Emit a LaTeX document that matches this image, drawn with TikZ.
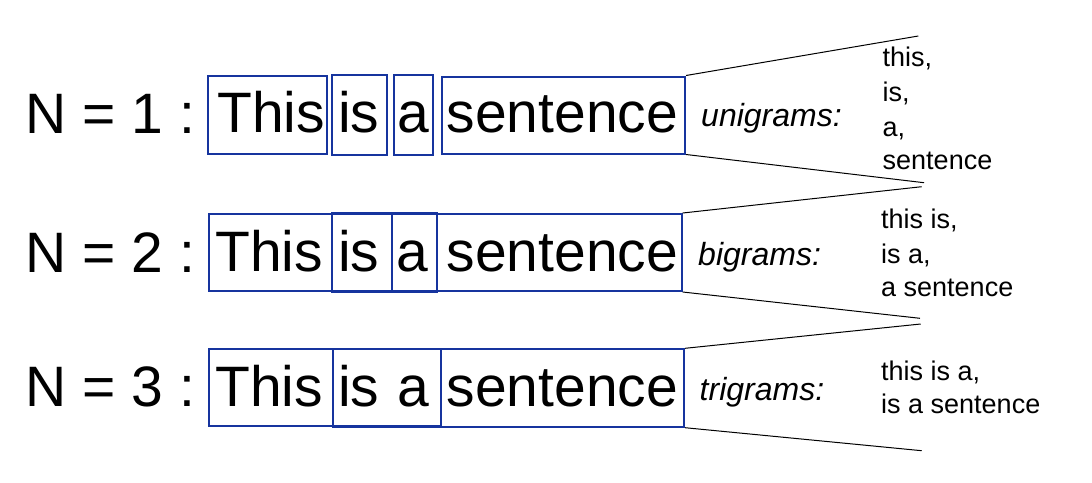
\documentclass[tikz,border=0pt]{standalone}
\usepackage{fontspec}
\setmainfont{Liberation Sans}
\definecolor{boxblue}{RGB}{22,52,158}
\begin{document}
\begin{tikzpicture}[x=1pt,y=-1pt,
  wordbox/.style={draw=boxblue,line width=2pt,inner sep=0pt,rectangle},
  bigword/.style={anchor=base west,inner sep=0pt,font=\fontsize{57}{60}\selectfont},
  gramlabel/.style={anchor=base west,inner sep=0pt,font=\fontsize{32}{36}\selectfont\itshape},
  gramitem/.style={anchor=base west,inner sep=0pt,font=\fontsize{27}{32}\selectfont},
  fan/.style={draw=black,line width=1pt}]
\useasboundingbox (0,0) rectangle (1092,482);
\fill[white] (0,0) rectangle (1092,482);

% ---------- Row 1: unigrams ----------
\node[wordbox,minimum width=118.4pt,minimum height=78pt] (r1this) at (267.5,115) {};
\node[wordbox,minimum width=55pt,minimum height=80pt] (r1is) at (359.2,115) {};
\node[wordbox,minimum width=38.7pt,minimum height=80pt] (r1a) at (413.3,115) {};
\node[wordbox,minimum width=242.7pt,minimum height=77pt] (r1sent) at (563.7,115) {};
\node[bigword] (n1) at (25.5,133) {N = 1 :};
\node[bigword] (w1a) at (217,132) {This};
\node[bigword] (w1b) at (338,132) {is};
\node[bigword] (w1c) at (397,132) {a};
\node[bigword] (w1d) at (446.5,132) {sentence};
\node[gramlabel] (g1) at (701,126.7) {unigrams:};
\node[gramitem] (l11) at (882.5,66.7) {this,};
\node[gramitem] (l12) at (882.5,101.7) {is,};
\node[gramitem] (l13) at (882.5,136) {a,};
\node[gramitem] (l14) at (882.5,169.3) {sentence};
\coordinate (f1t) at (918.3,36);
\coordinate (f1b) at (924,182.7);
\draw[fan] (r1sent.north east) -- (f1t);
\draw[fan] (r1sent.south east) -- (f1b);

% ---------- Row 2: bigrams ----------
\node[wordbox,minimum width=182.4pt,minimum height=77pt] (r2ab) at (300.5,252.5) {};
\node[wordbox,minimum width=105.6pt,minimum height=79pt] (r2bc) at (384.5,252.8) {};
\node[wordbox,minimum width=290pt,minimum height=77pt] (r2cd) at (536.7,252.5) {};
\node[bigword] (n2) at (25.5,272) {N = 2 :};
\node[bigword] (w2a) at (215,271.7) {This};
\node[bigword] (w2b) at (338,271.7) {is};
\node[bigword] (w2c) at (396.5,271.7) {a};
\node[bigword] (w2d) at (446.5,271.7) {sentence};
\node[gramlabel] (g2) at (698,265) {bigrams:};
\node[gramitem] (l21) at (881,228.3) {this is,};
\node[gramitem] (l22) at (881,263.3) {is a,};
\node[gramitem] (l23) at (881,296.7) {a sentence};
\coordinate (f2t) at (921.7,186.7);
\coordinate (f2b) at (920,318.3);
\draw[fan] (r2cd.north east) -- (f2t);
\draw[fan] (r2cd.south east) -- (f2b);

% ---------- Row 3: trigrams ----------
\node[wordbox,minimum width=231.4pt,minimum height=77pt] (r3abc) at (325,387) {};
\node[wordbox,minimum width=350.7pt,minimum height=77.4pt] (r3bcd) at (508.7,388) {};
\node[bigword] (n3) at (25.5,406) {N = 3 :};
\node[bigword] (w3a) at (215,406.7) {This};
\node[bigword] (w3b) at (338,406.7) {is};
\node[bigword] (w3c) at (397,406.7) {a};
\node[bigword] (w3d) at (446.5,406.7) {sentence};
\node[gramlabel] (g3) at (699.5,400) {trigrams:};
\node[gramitem] (l31) at (881,380) {this is a,};
\node[gramitem] (l32) at (881,413.3) {is a sentence};
\coordinate (f3t) at (920.7,324);
\coordinate (f3b) at (921.7,450.7);
\draw[fan] (r3bcd.north east) -- (f3t);
\draw[fan] (r3bcd.south east) -- (f3b);
\end{tikzpicture}
\end{document}
